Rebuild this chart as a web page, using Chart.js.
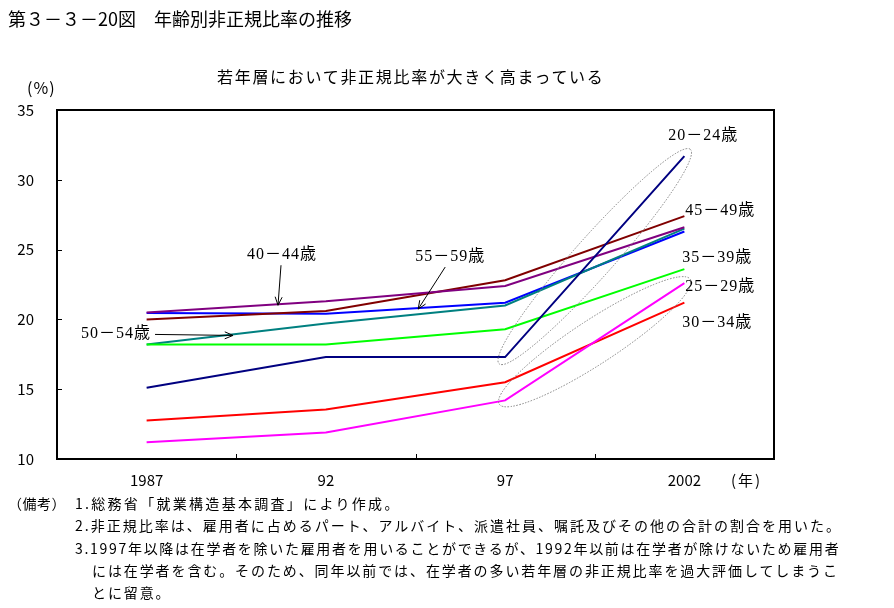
<!DOCTYPE html>
<html>
<head>
<meta charset="utf-8">
<script src="https://cdn.jsdelivr.net/npm/chart.js@4.4.0/dist/chart.umd.min.js"></script>
<style>
  body { margin: 0; background: #fff; font-family: "Noto Sans CJK JP", sans-serif; }
  #wrap { position: relative; width: 894px; height: 608px; overflow: hidden; }
  canvas { position: absolute; left: 0; top: 0; }
  .t { position: absolute; white-space: nowrap; color: #000; line-height: 1; }
  .note { font-size: 14px; letter-spacing: 2.3px; }
  .lab { font-family: "Liberation Serif", "Noto Sans CJK JP", serif; font-size: 16px; letter-spacing: 1px; transform: translate(-50%, -50%); }
</style>
</head>
<body>
<div id="wrap">
  <canvas id="chart" width="894" height="608"></canvas>
  <div class="t" style="left:8px;top:9px;font-size:18px;">第３－３－20図　年齢別非正規比率の推移</div>
  <div class="t" style="left:217px;top:68px;font-size:16px;letter-spacing:1.7px;">若年層において非正規比率が大きく高まっている</div>
  <div class="t" style="left:27px;top:79px;font-size:16px;letter-spacing:1px;">(%)</div>
  <div class="t" style="left:731px;top:472px;font-size:15px;letter-spacing:2px;">(年)</div>
  <div class="t note" style="left:8px;top:496px;letter-spacing:0.5px;">（備考）</div>
  <div class="t note" style="left:75px;top:496px;">1.総務省「就業構造基本調査」により作成。</div>
  <div class="t note" style="left:75px;top:518px;letter-spacing:2px;">2.非正規比率は、雇用者に占めるパート、アルバイト、派遣社員、嘱託及びその他の合計の割合を用いた。</div>
  <div class="t note" style="left:75px;top:541px;letter-spacing:1.7px;">3.1997年以降は在学者を除いた雇用者を用いることができるが、1992年以前は在学者が除けないため雇用者</div>
  <div class="t note" style="left:92px;top:563px;letter-spacing:1.9px;">には在学者を含む。そのため、同年以前では、在学者の多い若年層の非正規比率を過大評価してしまうこ</div>
  <div class="t note" style="left:92px;top:585px;letter-spacing:1.9px;">とに留意。</div>
</div>
<script>
const years = ["1987", "92", "97", "2002"]
const age20_24 = [15.1, 17.3, 17.3, 31.7]
const age25_29 = [11.2, 11.9, 14.2, 22.6]
const age30_34 = [12.75, 13.55, 15.5, 21.2]
const age35_39 = [18.2, 18.2, 19.3, 23.6]
const age40_44 = [20.5, 21.3, 22.4, 26.6]
const age45_49 = [20.0, 20.6, 22.8, 27.4]
const age50_54 = [18.2, 19.7, 21.0, 26.5]
const age55_59 = [20.45, 20.4, 21.2, 26.3]
const yTicks = [10, 15, 20, 25, 30, 35]

const series = [
  { name: "20－24歳", data: age20_24, color: "#000080" },
  { name: "25－29歳", data: age25_29, color: "#ff00ff" },
  { name: "30－34歳", data: age30_34, color: "#ff0000" },
  { name: "35－39歳", data: age35_39, color: "#00ff00" },
  { name: "40－44歳", data: age40_44, color: "#800080" },
  { name: "45－49歳", data: age45_49, color: "#800000" },
  { name: "50－54歳", data: age50_54, color: "#008080" },
  { name: "55－59歳", data: age55_59, color: "#0000ff" },
]

// labels at the right end of a line: offset from the 2002 point
const endLabels = [
  { data: age20_24, text: "20－24歳", dx: 19, dy: -21 },
  { data: age45_49, text: "45－49歳", dx: 36, dy: -6 },
  { data: age35_39, text: "35－39歳", dx: 33, dy: -12 },
  { data: age25_29, text: "25－29歳", dx: 36, dy: 3 },
  { data: age30_34, text: "30－34歳", dx: 33, dy: 19 },
]

// labels with an arrow pointing at a spot on the line (t = fractional category index)
const arrowLabels = [
  { data: age40_44, text: "40－44歳", t: 0.733, lx: 4, ly: -50, sx: 3, sy: -40 },
  { data: age55_59, text: "55－59歳", t: 1.515, lx: 32, ly: -52, sx: 27, sy: -42 },
  { data: age50_54, text: "50－54歳", t: 0.482, lx: -117, ly: -1, sx: -78, sy: -1 },
]

// dotted ellipses round the 97-2002 segment
const ellipses = [
  { data: age20_24, extra: 9, ry: 20 },
  { data: age25_29, extra: 7, ry: 22 },
]

const valueAt = (arr, t) => {
  const i = Math.min(Math.floor(t), arr.length - 2)
  return arr[i] + (arr[i + 1] - arr[i]) * (t - i)
}

const drawArrow = (ctx, x1, y1, x2, y2) => {
  const ang = Math.atan2(y2 - y1, x2 - x1)
  const len = 9, spread = 0.4
  ctx.beginPath()
  ctx.moveTo(x1, y1)
  ctx.lineTo(x2, y2)
  ctx.moveTo(x2 - len * Math.cos(ang - spread), y2 - len * Math.sin(ang - spread))
  ctx.lineTo(x2, y2)
  ctx.lineTo(x2 - len * Math.cos(ang + spread), y2 - len * Math.sin(ang + spread))
  ctx.stroke()
}

const addLabel = (text, x, y) => {
  const d = document.createElement("div")
  d.className = "t lab"
  d.style.left = x + "px"
  d.style.top = y + "px"
  d.textContent = text
  document.getElementById("wrap").appendChild(d)
}

let labelsDone = false

const decor = {
  id: "decor",
  afterDatasetsDraw(chart) {
    const { ctx, chartArea: a, scales: { x, y } } = chart
    ctx.save()

    // frame
    ctx.strokeStyle = "#000"
    ctx.lineWidth = 2
    ctx.setLineDash([])
    ctx.strokeRect(a.left, a.top, a.right - a.left, a.bottom - a.top)

    // inward tick marks
    ctx.lineWidth = 1
    ctx.beginPath()
    yTicks.slice(1, -1).forEach(v => {
      const py = Math.round(y.getPixelForValue(v)) + 0.5
      ctx.moveTo(a.left, py)
      ctx.lineTo(a.left + 5, py)
    })
    for (let i = 1; i < years.length; i++) {
      const px = Math.round(x.getPixelForValue(i - 0.5)) + 0.5
      ctx.moveTo(px, a.bottom)
      ctx.lineTo(px, a.bottom - 5)
    }
    ctx.stroke()

    // ellipses
    ctx.strokeStyle = "#808080"
    ctx.lineWidth = 1
    ctx.setLineDash([1.5, 1.5])
    ellipses.forEach(e => {
      const x1 = x.getPixelForValue(2), y1 = y.getPixelForValue(e.data[2])
      const x2 = x.getPixelForValue(3), y2 = y.getPixelForValue(e.data[3])
      const rx = Math.hypot(x2 - x1, y2 - y1) / 2 + e.extra
      ctx.beginPath()
      ctx.ellipse((x1 + x2) / 2, (y1 + y2) / 2, rx, e.ry, Math.atan2(y2 - y1, x2 - x1), 0, Math.PI * 2)
      ctx.stroke()
    })

    // arrows
    ctx.setLineDash([])
    ctx.strokeStyle = "#000"
    ctx.lineWidth = 1
    arrowLabels.forEach(l => {
      const tx = x.getPixelForValue(l.t), ty = y.getPixelForValue(valueAt(l.data, l.t)) + 1
      drawArrow(ctx, tx + l.sx, ty + l.sy, tx, ty)
    })
    ctx.restore()

    if (!labelsDone) {
      labelsDone = true
      endLabels.forEach(l => {
        addLabel(l.text, x.getPixelForValue(3) + l.dx, y.getPixelForValue(l.data[3]) + l.dy)
      })
      arrowLabels.forEach(l => {
        const tx = x.getPixelForValue(l.t), ty = y.getPixelForValue(valueAt(l.data, l.t))
        addLabel(l.text, tx + l.lx, ty + l.ly)
      })
    }
  },
}

const tickFont = { family: "'Noto Sans CJK JP', sans-serif", size: 15 }

new Chart(document.getElementById("chart"), {
  type: "line",
  data: {
    labels: years,
    datasets: series.map(s => ({
      label: s.name,
      data: s.data,
      borderColor: s.color,
      backgroundColor: s.color,
      borderWidth: 2,
      pointRadius: 0,
      tension: 0,
    })),
  },
  options: {
    responsive: false,
    animation: false,
    layout: { padding: { top: 110, right: 120, bottom: 109, left: 0 } },
    scales: {
      x: {
        offset: true,
        grid: { display: false, drawTicks: false },
        border: { display: false },
        ticks: { color: "#000", font: tickFont, padding: 12, maxRotation: 0 },
        afterFit: s => { s.height = 40 },
      },
      y: {
        min: 10,
        max: 35,
        grid: { display: false, drawTicks: false },
        border: { display: false },
        ticks: { color: "#000", font: tickFont, padding: 23, stepSize: 5 },
        afterFit: s => { s.width = 57 },
      },
    },
    plugins: {
      legend: { display: false },
      tooltip: { enabled: false },
    },
  },
  plugins: [decor],
})
</script>
</body>
</html>
